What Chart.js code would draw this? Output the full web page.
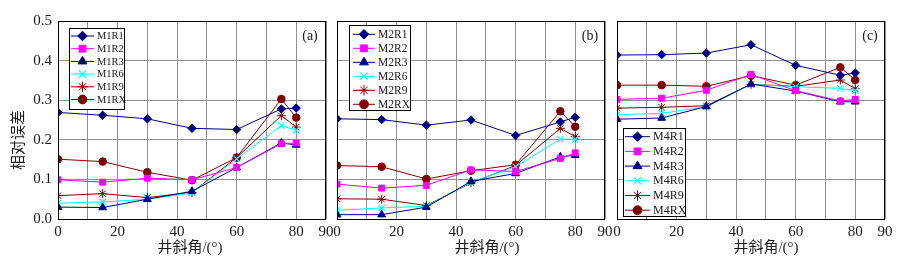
<!DOCTYPE html>
<html><head><meta charset="utf-8">
<script src="https://cdn.jsdelivr.net/npm/chart.js@4.4.0/dist/chart.umd.min.js"></script>
<style>
html,body{margin:0;padding:0;background:#fff;width:909px;height:262px;overflow:hidden;}
.p{position:absolute;top:0;height:262px;}
</style></head><body>
<div class="p" style="left:0;width:340px"><canvas id="ca"></canvas></div>
<div class="p" style="left:326px;width:292px"><canvas id="cb"></canvas></div>
<div class="p" style="left:606px;width:303px"><canvas id="cc"></canvas></div>
<script>
// ---- data ----
const angles = [0, 15, 30, 45, 60, 75, 80];
const xTickLabels = [0, 20, 40, 60, 80, 90];
const yTickLabels = ['0.0', '0.1', '0.2', '0.3', '0.4', '0.5'];
const xTitle = '井斜角/(°)';
const yTitle = '相对误差';

const M1R1 = [0.269, 0.262, 0.253, 0.229, 0.226, 0.278, 0.280];
const M1R2 = [0.099, 0.093, 0.103, 0.099, 0.130, 0.190, 0.192];
const M1R3 = [0.030, 0.029, 0.050, 0.070, 0.130, 0.192, 0.187];
const M1R6 = [0.040, 0.043, 0.050, 0.066, 0.152, 0.236, 0.224];
const M1R9 = [0.059, 0.064, 0.054, 0.067, 0.155, 0.261, 0.232];
const M1RX = [0.151, 0.145, 0.118, 0.098, 0.155, 0.303, 0.256];

const M2R1 = [0.253, 0.251, 0.237, 0.250, 0.211, 0.245, 0.257];
const M2R2 = [0.088, 0.078, 0.085, 0.124, 0.120, 0.153, 0.167];
const M2R3 = [0.011, 0.011, 0.030, 0.095, 0.115, 0.157, 0.161];
const M2R6 = [0.022, 0.028, 0.032, 0.093, 0.132, 0.202, 0.201];
const M2R9 = [0.051, 0.050, 0.034, 0.091, 0.135, 0.229, 0.208];
const M2RX = [0.135, 0.132, 0.101, 0.122, 0.137, 0.272, 0.233];

const M4R1 = [0.414, 0.415, 0.419, 0.440, 0.388, 0.363, 0.369];
const M4R2 = [0.302, 0.305, 0.325, 0.365, 0.324, 0.298, 0.302];
const M4R3 = [0.252, 0.255, 0.284, 0.341, 0.323, 0.296, 0.296];
const M4R6 = [0.263, 0.267, 0.283, 0.340, 0.334, 0.330, 0.324];
const M4R9 = [0.280, 0.282, 0.286, 0.340, 0.335, 0.351, 0.329];
const M4RX = [0.338, 0.338, 0.335, 0.362, 0.338, 0.383, 0.351];

const panelLabels = ['(a)', '(b)', '(c)'];

// ---- styles ----
const NAVY = '#000080', MAG = '#ff00ff', CYAN = '#00ffff', DRED = '#800000';
const seriesStyles = [
  {c: NAVY, ps: 'rectRot', r: 4.2, bw: 1, fill: true},
  {c: MAG,  ps: 'rect',    r: 4.2, bw: 1, fill: true},
  {c: NAVY, ps: 'triangle',r: 4.5, bw: 1, fill: true},
  {c: CYAN, ps: 'crossRot',r: 4.5, bw: 1.2, fill: false},
  {c: DRED, ps: 'star',    r: 4.5, bw: 1, fill: false},
  {c: DRED, ps: 'circle',  r: 3.8, bw: 1, fill: true}
];
function mkDatasets(names, arrays) {
  return arrays.map((arr, i) => {
    const s = seriesStyles[i];
    return {
      label: names[i],
      data: angles.map((a, k) => ({x: a, y: arr[k]})),
      borderColor: s.c, backgroundColor: s.c, borderWidth: 1,
      pointStyle: s.ps, pointRadius: s.r, pointBorderWidth: s.bw,
      pointBackgroundColor: s.fill ? s.c : 'rgba(0,0,0,0)', pointBorderColor: s.c,
      pointHoverRadius: s.r, tension: 0, fill: false
    };
  });
}

const SERIF = '"Liberation Serif","Times New Roman",serif';
const TITLEF = '"Liberation Serif","Noto Sans CJK SC",serif';

function drawMarker(ctx, style, r, x, y, bw) {
  if (Chart.helpers && Chart.helpers.drawPoint) {
    Chart.helpers.drawPoint(ctx, {pointStyle: style, rotation: 0, radius: r, borderWidth: bw}, x, y);
  }
}

const decorPlugin = {
  id: 'decor',
  afterDraw(chart, args, o) {
    const ctx = chart.ctx, ca = chart.chartArea;
    ctx.save();
    // frame
    ctx.strokeStyle = '#000'; ctx.lineWidth = 1;
    ctx.strokeRect(Math.round(ca.left) + 0.5, Math.round(ca.top) + 0.5, Math.round(ca.right - ca.left) - 1, Math.round(ca.bottom - ca.top));
    // legend box
    const L = o.legend;
    ctx.fillStyle = '#fff'; ctx.fillRect(L.x, L.y, L.w, L.h);
    ctx.strokeStyle = '#000'; ctx.lineWidth = 1; ctx.strokeRect(L.x + 0.5, L.y + 0.5, L.w, L.h);
    chart.data.datasets.forEach((ds, i) => {
      const cy = L.y + L.first + i * L.row;
      ctx.strokeStyle = ds.borderColor; ctx.lineWidth = 1;
      ctx.beginPath(); ctx.moveTo(L.x + L.l0, cy); ctx.lineTo(L.x + L.l1, cy); ctx.stroke();
      ctx.fillStyle = ds.pointBackgroundColor; ctx.strokeStyle = ds.pointBorderColor; ctx.lineWidth = ds.pointBorderWidth;
      drawMarker(ctx, ds.pointStyle, ds.pointRadius + 0.6, L.x + (L.l0 + L.l1) / 2, cy, ds.pointBorderWidth);
      ctx.fillStyle = '#1a1a1a'; ctx.font = L.font + 'px ' + SERIF;
      ctx.textBaseline = 'middle'; ctx.textAlign = 'left';
      ctx.fillText(ds.label, L.x + L.tx, cy + 0.5);
    });
    // panel label
    ctx.fillStyle = '#1a1a1a'; ctx.font = '14px ' + SERIF; ctx.textAlign = 'center'; ctx.textBaseline = 'middle';
    ctx.fillText(o.tag, o.tagX, 36);
    // x title
    ctx.font = '15px ' + TITLEF;
    ctx.fillText(xTitle, o.xtX, 248);
    if (o.ytitle) {
      ctx.translate(19, 140); ctx.rotate(-Math.PI / 2);
      ctx.fillText(yTitle, 0, 0);
    }
    ctx.restore();
  }
};

function makePanel(id, datasets, opt) {
  new Chart(document.getElementById(id), {
    type: 'line',
    data: {datasets},
    plugins: [decorPlugin],
    options: {
      responsive: true, maintainAspectRatio: false, animation: false,
      layout: {padding: {top: 21, bottom: 0, left: opt.padL, right: opt.padR}},
      plugins: {legend: {display: false}, tooltip: {enabled: false},
        decor: {legend: opt.legend, tag: opt.tag, tagX: opt.tagX, xtX: opt.xtX, ytitle: opt.showY}},
      scales: {
        x: {
          type: 'linear', min: 0, max: 90,
          grid: {color: '#8f8f8f', lineWidth: 1, drawTicks: false},
          border: {display: false},
          ticks: {stepSize: 10, autoSkip: false, maxRotation: 0, padding: 4, color: '#1a1a1a',
            font: {family: SERIF, size: 15},
            callback: v => xTickLabels.includes(v) ? String(v) : ''},
          afterFit: s => { s.height = 43; }
        },
        y: {
          min: 0, max: 0.5,
          grid: {color: '#8f8f8f', lineWidth: 1, drawTicks: false},
          border: {display: false},
          ticks: {display: opt.showY, stepSize: 0.1, padding: 6, color: '#1a1a1a',
            font: {family: SERIF, size: 15},
            callback: (v, i) => yTickLabels[Math.round(v * 10)]},
          afterFit: s => { s.width = opt.showY ? 58 : 0; }
        }
      }
    }
  });
}

makePanel('ca', mkDatasets(['M1R1','M1R2','M1R3','M1R6','M1R9','M1RX'], [M1R1,M1R2,M1R3,M1R6,M1R9,M1RX]),
  {padL: 0, padR: 14, showY: true, tag: panelLabels[0], tagX: 310, xtX: 190,
   legend: {x: 69, y: 28, w: 55, h: 81, first: 8, row: 12.7, l0: 2, l1: 25, tx: 28, font: 10.5}});
makePanel('cb', mkDatasets(['M2R1','M2R2','M2R3','M2R6','M2R9','M2RX'], [M2R1,M2R2,M2R3,M2R6,M2R9,M2RX]),
  {padL: 11, padR: 13, showY: false, tag: panelLabels[1], tagX: 264, xtX: 161,
   legend: {x: 23, y: 25, w: 61, h: 85, first: 9.3, row: 14, l0: 4, l1: 26, tx: 29, font: 11.5}});
makePanel('cc', mkDatasets(['M4R1','M4R2','M4R3','M4R6','M4R9','M4RX'], [M4R1,M4R2,M4R3,M4R6,M4R9,M4RX]),
  {padL: 11, padR: 24, showY: false, tag: panelLabels[2], tagX: 264, xtX: 160,
   legend: {x: 17, y: 128, w: 62, h: 88, first: 8.7, row: 14.7, l0: 2, l1: 27, tx: 30, font: 12}});
</script>
</body></html>
